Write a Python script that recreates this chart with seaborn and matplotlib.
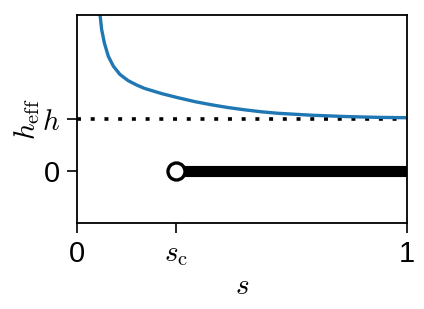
import matplotlib
matplotlib.use("Agg")
import matplotlib.pyplot as plt
import seaborn as sns
import pandas as pd

# data
s_curve = [0.0697, 0.0748, 0.0827, 0.0948, 0.110, 0.130, 0.155, 0.181, 0.205, 0.257,
           0.307, 0.358, 0.408, 0.458, 0.509, 0.560, 0.609, 0.711, 0.812, 0.912, 1.0]
heff_curve = [3.01, 2.72, 2.47, 2.21, 2.02, 1.86, 1.74, 1.655, 1.59, 1.49,
              1.41, 1.335, 1.275, 1.222, 1.178, 1.14, 1.112, 1.075, 1.05, 1.034, 1.027]
h_value = 1.0
s_c = 0.3
branch_s = [s_c, 1.0]
branch_h = [0.0, 0.0]
x_ticks = [0, s_c, 1]
x_ticklabels = ["0", r"$s_{\rm c}$", "1"]
y_ticks = [0, h_value]
y_ticklabels = ["0", r"$h$"]

sns.set_theme(style="ticks", rc={"text.color": "black", "axes.labelcolor": "black",
                                 "xtick.color": "black", "ytick.color": "black",
                                 "axes.edgecolor": "black"})
plt.rcParams["font.family"] = ["Liberation Sans", "DejaVu Sans"]
plt.rcParams["mathtext.fontset"] = "cm"

fig = plt.figure(figsize=(4.24, 3.09), dpi=100)
ax = fig.add_axes([0.1816, 0.278, 0.7784, 0.673])

curve = pd.DataFrame({"s": s_curve, "heff": heff_curve})
sns.lineplot(data=curve, x="s", y="heff", ax=ax, color="#1f77b4", lw=2.4, sort=False)

ax.axhline(h_value, color="black", lw=2.6, dashes=(1.1, 2.7), zorder=1)

branch = pd.DataFrame({"s": branch_s, "h": branch_h})
sns.lineplot(data=branch, x="s", y="h", ax=ax, color="black", lw=8, solid_capstyle="butt", zorder=3)
sns.scatterplot(x=[s_c], y=[0.0], ax=ax, s=150, color="white", edgecolor="black",
                linewidth=2.4, zorder=4, clip_on=False)

ax.set_xlim(0, 1)
ax.set_ylim(-1, 3)
ax.set_xticks(x_ticks)
ax.set_xticklabels(x_ticklabels)
ax.set_yticks(y_ticks)
ax.set_yticklabels(y_ticklabels)
ax.tick_params(axis="both", labelsize=21, length=7, width=1.2, direction="out", pad=5,
               colors="black")
for sp in ax.spines.values():
    sp.set_linewidth(1.3)
    sp.set_color("black")
ax.set_xlabel(r"$s$", fontsize=21, labelpad=3)
ax.set_ylabel(r"$h_{\rm eff}$", fontsize=21, labelpad=0)

fig.savefig("out.png", dpi=100)
